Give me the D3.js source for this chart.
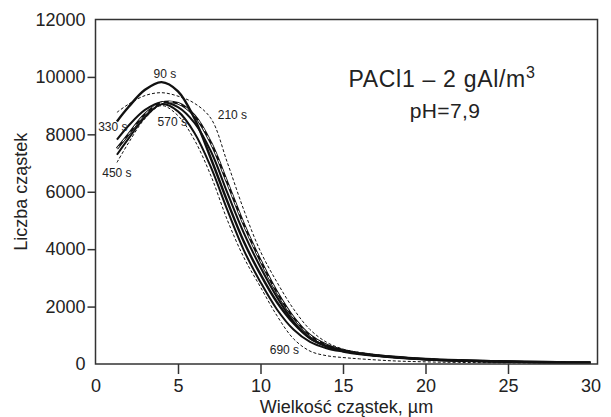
<!DOCTYPE html>
<html>
<head>
<meta charset="utf-8">
<script src="https://cdn.jsdelivr.net/npm/d3@7"></script>
<style>
  html, body { margin: 0; padding: 0; background: #fff; }
  svg { display: block; font-family: "Liberation Sans", Arial, sans-serif; }
</style>
</head>
<body>
<svg id="chart" width="611" height="417"></svg>
<script>
// ---- data ----
const sizes = [1.3, 2, 3, 4, 5, 6, 7, 8, 9, 10, 11, 12, 13, 14, 15, 16, 18, 20, 22, 25, 28, 30];
const s90  = [8450, 8950, 9550, 9820, 9500, 8550, 7150, 5650, 4250, 3120, 2150, 1420, 900, 630, 470, 370, 250, 170, 125, 85, 60, 50];
const s210 = [8766, 9050, 9350, 9450, 9330, 9080, 8550, 7000, 5350, 3920, 2850, 1920, 1200, 760, 520, 400, 260, 180, 130, 85, 60, 50];
const s330 = [7814, 8300, 8850, 9120, 8950, 8400, 7400, 5950, 4550, 3370, 2330, 1480, 900, 610, 460, 360, 240, 165, 120, 80, 55, 45];
const s570 = [7500, 8000, 8700, 9100, 9080, 8650, 7700, 6300, 4850, 3600, 2500, 1620, 1000, 660, 480, 375, 250, 170, 125, 85, 58, 48];
const s690 = [7290, 7850, 8600, 9050, 8800, 8050, 6850, 5350, 3950, 2850, 1900, 1200, 770, 550, 430, 340, 230, 160, 115, 78, 52, 42];
const s450 = [7020, 7700, 8550, 9000, 8650, 7800, 6550, 5000, 3700, 2680, 1680, 880, 450, 290, 225, 180, 110, 75, 55, 40, 32, 28];

const xTicks = [0, 5, 10, 15, 20, 25, 30];
const yTicks = [0, 2000, 4000, 6000, 8000, 10000, 12000];

const labelText = ["90 s", "210 s", "330 s", "450 s", "570 s", "690 s"];
const labelX    = [4.2, 8.3, 1.05, 1.3, 4.65, 11.45];
const labelY    = [10100, 8680, 8250, 6660, 8420, 480];

const titleText = "PACl1 – 2 gAl/m";
const titleSup = "3";
const subText = "pH=7,9";
const xTitle = "Wielkość cząstek, µm";
const yTitle = "Liczba cząstek";

// ---- layout ----
const svg = d3.select("#chart");
const L = 95.5, T = 19.5, R = 597.5, B = 364;
const x = d3.scaleLinear().domain([0, 30]).range([L, 590.5]);
const y = d3.scaleLinear().domain([0, 12000]).range([B, T]);
const ink = "#222";

const lineGen = d3.line()
  .x((d, i) => x(sizes[i]))
  .y(d => y(d))
  .curve(d3.curveCatmullRom.alpha(0.5));

const g = svg.append("g");

// series
const series = [
  { v: s210, w: 1.0, dash: "3,2" },
  { v: s450, w: 1.0, dash: "3,2" },
  { v: s690, w: 2.0, dash: null },
  { v: s330, w: 2.0, dash: null },
  { v: s570, w: 2.6, dash: null, white: true },
  { v: s90,  w: 2.4, dash: null }
];
series.forEach(s => {
  g.append("path").attr("d", lineGen(s.v))
    .attr("fill", "none").attr("stroke", "#111")
    .attr("stroke-width", s.w)
    .attr("stroke-dasharray", s.dash);
  if (s.white) {
    g.append("path").attr("d", lineGen(s.v))
      .attr("fill", "none").attr("stroke", "#fff")
      .attr("stroke-width", 1.0)
      .attr("stroke-dasharray", "4,5");
  }
});

// frame
svg.append("rect").attr("x", L).attr("y", T).attr("width", R - L).attr("height", B - T)
  .attr("fill", "none").attr("stroke", "#333").attr("stroke-width", 1.5);

// axes
const xAxis = d3.axisBottom(x).tickValues(xTicks).tickSize(10).tickPadding(5).tickFormat(d3.format("d"));
const yAxis = d3.axisLeft(y).tickValues(yTicks).tickSize(8).tickPadding(2).tickFormat(d3.format("d"));

const gx = svg.append("g").attr("transform", `translate(0,${B})`).call(xAxis);
const gy = svg.append("g").attr("transform", `translate(${L},0)`).call(yAxis);
[gx, gy].forEach(a => {
  a.select(".domain").remove();
  a.selectAll(".tick line").attr("stroke", "#333").attr("stroke-width", 1.5)
    .filter(d => d === 0 || d === 30 || d === 12000).remove();
  a.selectAll(".tick text").attr("fill", ink).style("font-size", "18px")
    .style("font-family", "Liberation Sans, Arial, sans-serif");
});

// axis titles
svg.append("text").attr("x", (L + R) / 2).attr("y", 413).attr("text-anchor", "middle")
  .attr("fill", ink).style("font-size", "18px").text(xTitle);
svg.append("text").attr("transform", `translate(27,${(T + B) / 2}) rotate(-90)`)
  .attr("text-anchor", "middle").attr("fill", ink).style("font-size", "18px").text(yTitle);

// curve labels
labelText.forEach((t, i) => {
  svg.append("text").attr("x", x(labelX[i])).attr("y", y(labelY[i]))
    .attr("text-anchor", "middle").attr("dy", "0.35em")
    .attr("fill", ink).style("font-size", "12px").text(t);
});

// title
const tt = svg.append("text").attr("x", 442).attr("y", 87).attr("text-anchor", "middle")
  .attr("fill", ink).style("font-size", "23px").style("letter-spacing", "0.7px");
tt.append("tspan").text(titleText);
tt.append("tspan").attr("dy", -9).style("font-size", "16px").text(titleSup);
svg.append("text").attr("x", 445).attr("y", 118).attr("text-anchor", "middle")
  .attr("fill", ink).style("font-size", "21px").style("letter-spacing", "0.4px").text(subText);
</script>
</body>
</html>
